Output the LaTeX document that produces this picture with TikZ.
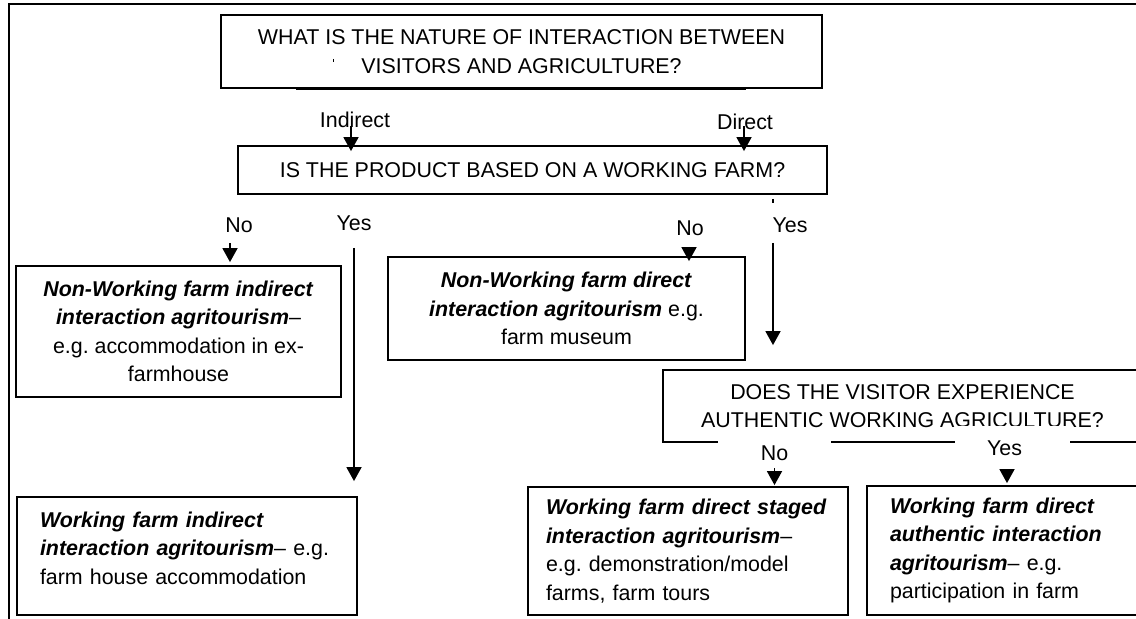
\documentclass[tikz,border=0pt]{standalone}
\usepackage{fontspec}
\setmainfont{Liberation Sans}
\usetikzlibrary{arrows.meta}
\newcommand\dgfont{\fontsize{10.7}{14.25}\selectfont\frenchspacing}
\begin{document}
\begin{tikzpicture}[x=0.5pt,y=-0.5pt,
  box/.style={draw, line width=0.9pt, inner sep=0pt, font=\dgfont},
  lbl/.style={inner sep=0pt, font=\dgfont},
  arr/.style={line width=0.85pt, -{Triangle[length=7pt,width=7.5pt]}},
  ln/.style={line width=0.85pt}]
\useasboundingbox (0,0) rectangle (1136,619);
% outer frame
\draw[line width=1pt] (9,619) -- (9,4) -- (1136,4);

% question 1
\node[box, minimum width=300.5pt, minimum height=36.5pt, align=center] (q1) at (521.5,51.5)
  {WHAT IS THE NATURE OF INTERACTION BETWEEN\\VISITORS AND AGRICULTURE?};
\draw[line width=0.6pt] (296,89) -- (746,89);
\draw[line width=0.5pt] (333,59) -- (333,62);

\node[lbl] (ind) at (355,120) {Indirect};
\node[lbl] (dir) at (745,122) {Direct};

% question 2
\node[box, minimum width=294.5pt, minimum height=24pt] (q2) at (532.5,170)
  {IS THE PRODUCT BASED ON A WORKING FARM?};
\draw[arr, shorten <=-1pt, shorten >=-3pt] ([xshift=-2pt]ind.south) -- ([xshift=-2pt]ind.south |- q2.north);
\draw[arr, shorten <=-2pt, shorten >=-3pt] ([xshift=-0.5pt]dir.south) -- ([xshift=-0.5pt]dir.south |- q2.north);
\draw[ln] (773,199) -- (773,203);

\node[lbl] (no1) at (239,225) {No};
\node[lbl] (yes1) at (354,223) {Yes};
\node[lbl] (no2) at (690,228) {No};
\node[lbl] (yes2) at (790,225) {Yes};

% outcome boxes upper
\node[box, minimum width=162.5pt, minimum height=65.5pt, align=center] (b3) at (178.5,331.5)
  {\textbf{\textit{Non-Working farm indirect}}\\\textbf{\textit{interaction agritourism}}–\\e.g. accommodation in ex-\\farmhouse};
\node[box, minimum width=178.5pt, minimum height=51.5pt, align=center] (b4) at (566.5,308.5)
  {\textbf{\textit{Non-Working farm direct}}\\\textbf{\textit{interaction agritourism}} e.g.\\farm museum};

% question 3
\node[box, minimum width=239.5pt, minimum height=36pt, align=center] (q3) at (902.5,406)
  {DOES THE VISITOR EXPERIENCE\\AUTHENTIC WORKING AGRICULTURE?};
\node[lbl, fill=white, minimum width=56.5pt, minimum height=16.5pt] (no3) at (774.5,453.5) {No};
\node[lbl, fill=white, minimum width=57.5pt, minimum height=22pt] (yes3) at (1012.5,448) {Yes\kern8pt};

% outcome boxes lower
\node[box, minimum width=170pt, minimum height=59pt] (b6) at (187,556) {};
\node[lbl, text width=147pt, align=left] (b6t) at (187,548)
  {\textbf{\textit{Working farm indirect}}\\\textbf{\textit{interaction agritourism}}– e.g.\\farm house accommodation};
\node[box, minimum width=160pt, minimum height=64pt, text width=142pt, align=left] (b7) at (688,551)
  {\textbf{\textit{Working farm direct staged}}\\\textbf{\textit{interaction agritourism}}–\\e.g. demonstration/model\\farms, farm tours};
\node[box, minimum width=137.5pt, minimum height=64.5pt, text width=114.5pt, align=left] (b8) at (1004.5,550.5)
  {\textbf{\textit{Working farm direct}}\\\textbf{\textit{authentic interaction}}\\\textbf{\textit{agritourism}}– e.g.\\participation in farm};

% connectors
\draw[arr, shorten <=5pt, shorten >=1.5pt] ([xshift=-4.5pt]no1.south) -- ([xshift=-4.5pt]no1.south |- b3.north);
\draw[arr, shorten <=8.5pt, shorten >=7.5pt] (yes1.south) -- (yes1.south |- b6.north);
\draw[arr, shorten <=5.5pt, shorten >=-2.5pt] ([xshift=-0.5pt]no2.south) -- ([xshift=-0.5pt]no2.south |- b4.north);
\draw[arr, shorten <=5pt, shorten >=12pt] ([xshift=-8.5pt]yes2.south) -- ([xshift=-8.5pt]yes2.south |- q3.north);
\draw[arr, shorten <=-1pt, shorten >=0.5pt] (no3.south) -- (no3.south |- b7.north);
\draw[arr, shorten <=-2.5pt, shorten >=1pt] ([xshift=-2.75pt]yes3.south) -- ([xshift=-2.75pt]yes3.south |- b8.north);
\end{tikzpicture}
\end{document}
